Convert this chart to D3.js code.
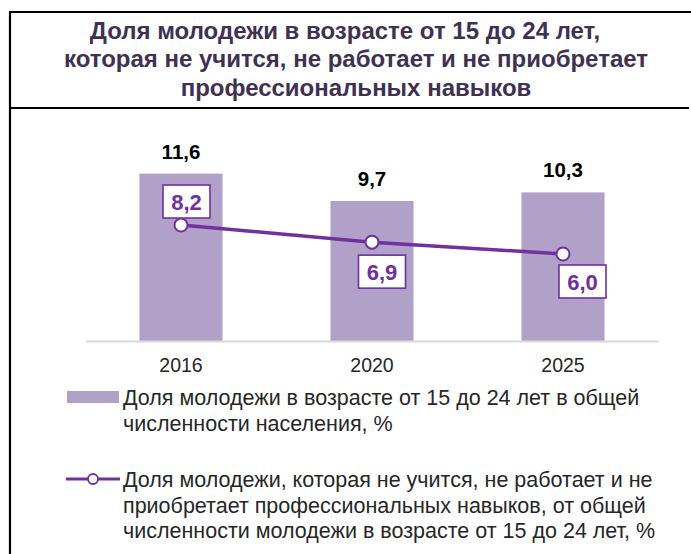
<!DOCTYPE html>
<html>
<head>
<meta charset="utf-8">
<script src="https://cdn.jsdelivr.net/npm/d3@7"></script>
<style>
  html, body { margin: 0; padding: 0; background: #fff; }
  svg { display: block; font-family: "Liberation Sans", Arial, sans-serif; }
</style>
</head>
<body>
<svg id="chart" width="691" height="554"></svg>
<script>
// ---- data ----
const years = ["2016", "2020", "2025"];
const youthShare = [11.6, 9.7, 10.3];      // bars
const neetShare = [8.2, 6.9, 6.0];         // line
const titleLines = [
  "Доля молодежи в возрасте от 15 до 24 лет,",
  "которая не учится, не работает и не приобретает",
  "профессиональных навыков"
];
const legendBars = ["Доля молодежи в возрасте от 15 до 24 лет в общей", "численности населения, %"];
const legendLine = [
  "Доля молодежи, которая не учится, не работает и не",
  "приобретает профессиональных навыков, от общей",
  "численности молодежи в возрасте от 15 до 24 лет, %"
];
const fmt = v => d3.format(".1f")(v).replace(".", ",");

// ---- styling / layout ----
const barColor = "#b1a0c7";
const lineColor = "#7030a0";
const titleColor = "#403152";
const titleShift = [-11, 0, 0];
const labelPlacement = [
  { dx: 5.5, side: "above", gap: 7 },
  { dx: 10, side: "below", gap: 13 },
  { dx: 19.5, side: "below", gap: 11 }
];

const svg = d3.select("#chart");

// frame
const frame = svg.append("g").attr("stroke", "#000").attr("stroke-width", 2.2).attr("fill", "none");
frame.append("line").attr("x1", 9).attr("x2", 691).attr("y1", 12).attr("y2", 12);
frame.append("line").attr("x1", 10).attr("x2", 10).attr("y1", 11).attr("y2", 554);
frame.append("line").attr("x1", 9).attr("x2", 689).attr("y1", 108).attr("y2", 108);

// title
svg.append("g").selectAll("text").data(titleLines).join("text")
  .attr("x", (d, i) => 356 + titleShift[i]).attr("y", (d, i) => 38.5 + i * 28.5)
  .attr("text-anchor", "middle")
  .attr("font-size", 24).attr("font-weight", "bold")
  .attr("fill", titleColor)
  .text(d => d);

// scales
const x = d3.scaleBand().domain(years).range([85.5, 658.5]).paddingInner(0.565).paddingOuter(0.2825);
const y = d3.scaleLinear().domain([0, 14]).range([341, 139]);
const y2 = d3.scaleLinear().domain([0, 12]).range([333, 175]);

// bars
svg.append("g").selectAll("rect").data(youthShare).join("rect")
  .attr("x", (d, i) => x(years[i]))
  .attr("width", x.bandwidth())
  .attr("y", d => y(d))
  .attr("height", d => y(0) - y(d))
  .attr("fill", barColor);

// x axis
const xAxis = svg.append("g").attr("transform", `translate(0,${y(0)})`)
  .call(d3.axisBottom(x).tickSize(0).tickPadding(17));
xAxis.select(".domain").attr("stroke", "#d9d9d9").attr("stroke-width", 2);
xAxis.selectAll("text").attr("font-size", 19.5).attr("fill", "#262626")
  .attr("font-family", "Liberation Sans, Arial, sans-serif");

// bar labels
svg.append("g").selectAll("text").data(youthShare).join("text")
  .attr("x", (d, i) => x(years[i]) + x.bandwidth() / 2)
  .attr("y", d => y(d) - 15)
  .attr("text-anchor", "middle")
  .attr("font-size", 20.5).attr("font-weight", "bold").attr("fill", "#000")
  .text(d => fmt(d));

// line
const cx = (d, i) => x(years[i]) + x.bandwidth() / 2;
svg.append("path")
  .datum(neetShare)
  .attr("fill", "none").attr("stroke", lineColor).attr("stroke-width", 3.5)
  .attr("d", d3.line().x(cx).y(d => y2(d)));

svg.append("g").selectAll("circle").data(neetShare).join("circle")
  .attr("cx", cx).attr("cy", d => y2(d)).attr("r", 6.5)
  .attr("fill", "#fff").attr("stroke", lineColor).attr("stroke-width", 2);

// line labels (boxed)
const bw = 47, bh = 33;
const lbl = svg.append("g").selectAll("g").data(neetShare).join("g")
  .attr("transform", (d, i) => {
    const p = labelPlacement[i];
    const bx = cx(d, i) + p.dx - bw / 2;
    const by = p.side === "above" ? y2(d) - p.gap - bh : y2(d) + p.gap;
    return `translate(${bx},${by})`;
  });
lbl.append("rect").attr("width", bw).attr("height", bh)
  .attr("fill", "#fff").attr("stroke", lineColor).attr("stroke-width", 1.6);
lbl.append("text").attr("x", bw / 2).attr("y", bh / 2 + 8)
  .attr("text-anchor", "middle").attr("font-size", 22).attr("font-weight", "bold")
  .attr("fill", lineColor).text(d => fmt(d));

// legend
const lg = svg.append("g");
lg.append("rect").attr("x", 67).attr("y", 391).attr("width", 52).attr("height", 12).attr("fill", barColor);
lg.append("g").selectAll("text").data(legendBars).join("text")
  .attr("x", 123).attr("y", (d, i) => 405 + i * 25.5)
  .attr("font-size", 21.5).attr("fill", "#262626").text(d => d);
lg.append("line").attr("x1", 66).attr("x2", 120).attr("y1", 479).attr("y2", 479)
  .attr("stroke", lineColor).attr("stroke-width", 3);
lg.append("circle").attr("cx", 93).attr("cy", 479).attr("r", 5)
  .attr("fill", "#fff").attr("stroke", lineColor).attr("stroke-width", 1.8);
lg.append("g").selectAll("text").data(legendLine).join("text")
  .attr("x", 123).attr("y", (d, i) => 487 + i * 25.5)
  .attr("font-size", 21.5).attr("fill", "#262626").text(d => d);
</script>
</body>
</html>
